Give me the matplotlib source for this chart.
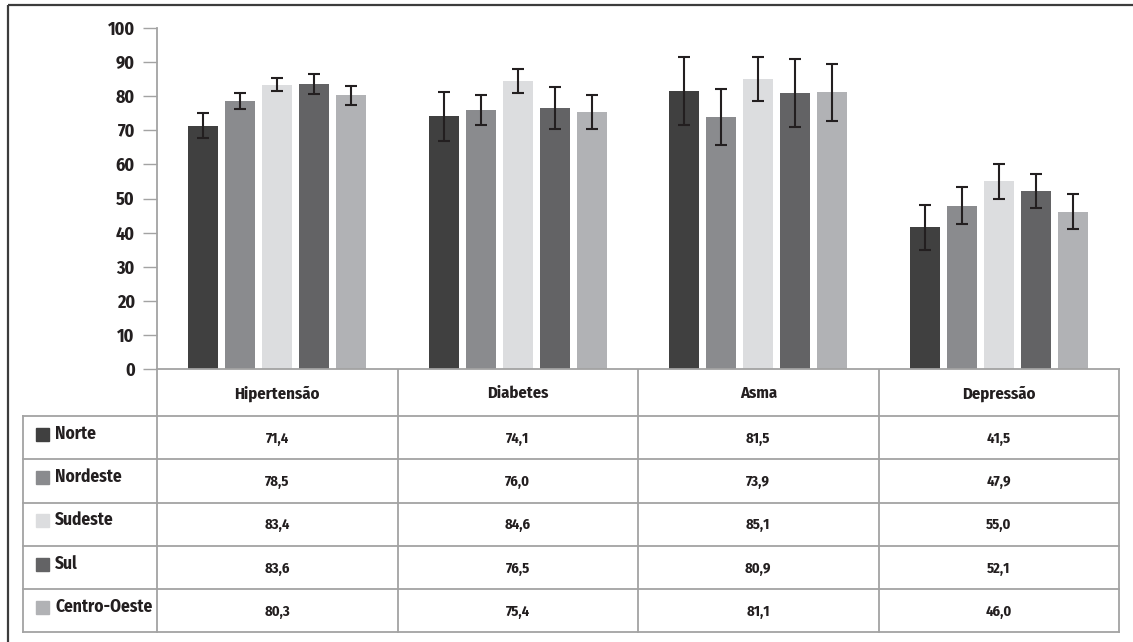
import numpy as np
import matplotlib
matplotlib.use('Agg')
from matplotlib import pyplot as plt
from matplotlib.patches import Rectangle

plt.rcParams['font.family'] = ['Fira Sans Condensed', 'DejaVu Sans']
plt.rcParams['font.weight'] = 'bold'

# data
doencas = ['Hipertensão', 'Diabetes', 'Asma', 'Depressão']
regioes = ['Norte', 'Nordeste', 'Sudeste', 'Sul', 'Centro-Oeste']
cores = ['#404040', '#8a8b8e', '#dcdddf', '#636365', '#b1b2b5']

norte = [71.4, 74.1, 81.5, 41.5]
nordeste = [78.5, 76.0, 73.9, 47.9]
sudeste = [83.4, 84.6, 85.1, 55.0]
sul = [83.6, 76.5, 80.9, 52.1]
centro_oeste = [80.3, 75.4, 81.1, 46.0]

# intervalos de confianca
ic_inf = [[67.8, 67.0, 71.6, 35.0],
          [76.1, 71.6, 65.8, 42.6],
          [81.5, 81.0, 78.7, 49.9],
          [80.7, 70.4, 71.0, 47.1],
          [77.5, 70.5, 72.7, 41.0]]
ic_sup = [[75.0, 81.3, 91.4, 48.1],
          [80.8, 80.4, 82.0, 53.4],
          [85.3, 88.1, 91.5, 60.0],
          [86.4, 82.6, 90.8, 57.2],
          [83.0, 80.3, 89.5, 51.2]]

valores = [norte, nordeste, sudeste, sul, centro_oeste]
yticks = np.arange(0, 101, 10)

W, H = 1133, 642
fig = plt.figure(figsize=(W / 100, H / 100), dpi=100)

# eixo principal das barras
x0, x1 = 157, 1119
ytop, ybot = 28, 369
ax = fig.add_axes([x0 / W, (H - ybot) / H, (x1 - x0) / W, (ybot - ytop) / H])
ax.set_xlim(0, len(doencas))
ax.set_ylim(0, 100)

largura = 0.125
passo = 0.154
centros = np.arange(len(doencas)) + 0.5
for i, (vals, cor) in enumerate(zip(valores, cores)):
    xs = centros + (i - 2) * passo
    vals = np.array(vals)
    err = [vals - np.array(ic_inf[i]), np.array(ic_sup[i]) - vals]
    ax.bar(xs, vals, width=largura, color=cor, zorder=2)
    ax.errorbar(xs, vals, yerr=err, fmt='none', ecolor='#231f20',
                elinewidth=1.5, capsize=4.5, capthick=1.5, zorder=3)

grid_cor = '#a3a3a3'
for s in ['top', 'right']:
    ax.spines[s].set_visible(False)
ax.spines['left'].set_color(grid_cor)
ax.spines['bottom'].set_color(grid_cor)
ax.spines['left'].set_linewidth(1.3)
ax.spines['bottom'].set_linewidth(1.3)
ax.set_xticks([])
ax.set_yticks(yticks)
ax.set_yticklabels([str(t) for t in yticks], fontsize=13, color='#231f20')
ax.tick_params(axis='y', length=10, width=1, color=grid_cor, pad=6)

# tabela desenhada em coordenadas de pixel
tab = fig.add_axes([0, 0, 1, 1], zorder=-1)
tab.set_xlim(0, W)
tab.set_ylim(H, 0)
tab.axis('off')

# moldura
tab.add_patch(Rectangle((8, 4.5), 1200, 700, fill=False, ec='#3c3c3c', lw=1.6))

cols = np.linspace(x0, x1, len(doencas) + 1)
linhas = [369, 416, 459, 502.5, 546, 589, 632]
leg_x = 23
for c in cols:
    tab.plot([c, c], [linhas[0], linhas[-1]], color=grid_cor, lw=1.3)
tab.plot([leg_x, leg_x], [linhas[1], linhas[-1]], color=grid_cor, lw=1.3)
for y in linhas[1:]:
    tab.plot([leg_x, x1], [y, y], color=grid_cor, lw=1.3)

for j, nome in enumerate(doencas):
    tab.text((cols[j] + cols[j + 1]) / 2, (linhas[0] + linhas[1]) / 2 + 1, nome,
             ha='center', va='center', fontsize=12, color='#231f20')

for i, (reg, cor, vals) in enumerate(zip(regioes, cores, valores)):
    yc = (linhas[i + 1] + linhas[i + 2]) / 2
    tab.add_patch(Rectangle((36, yc - 10), 13, 13, color=cor))
    tab.text(55, yc - 4, reg, ha='left', va='center', fontsize=12.5, color='#231f20')
    for j, v in enumerate(vals):
        tab.text((cols[j] + cols[j + 1]) / 2, yc + 1, f'{v:.1f}'.replace('.', ','),
                 ha='center', va='center', fontsize=10.5, color='#231f20')

fig.savefig('out.png', dpi=100)
